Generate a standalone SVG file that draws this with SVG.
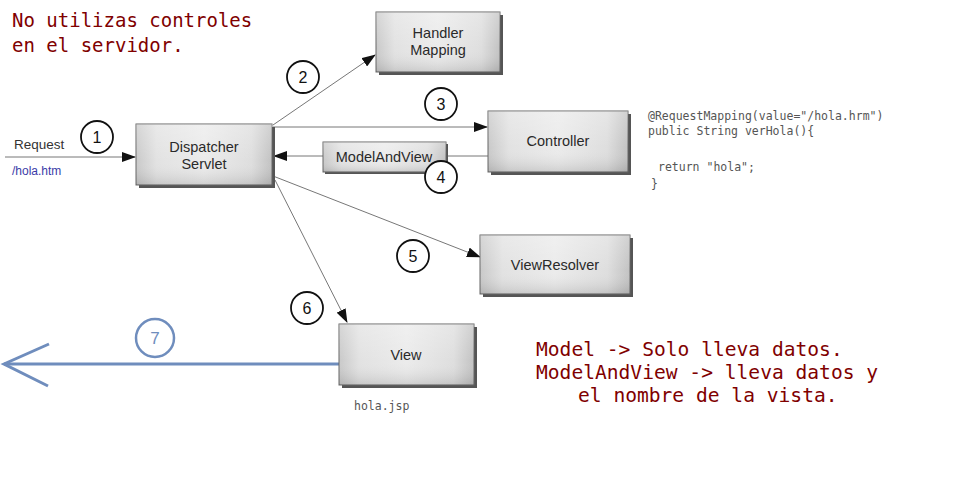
<svg xmlns="http://www.w3.org/2000/svg" width="954" height="478" viewBox="0 0 954 478">
<defs>
<linearGradient id="g" x1="0" y1="0" x2="1" y2="0">
<stop offset="0" stop-color="#c9c9c9"/>
<stop offset="0.15" stop-color="#e2e2e2"/>
<stop offset="0.5" stop-color="#ebebeb"/>
<stop offset="0.85" stop-color="#dedede"/>
<stop offset="1" stop-color="#c2c2c2"/>
</linearGradient>
<linearGradient id="gv" x1="0" y1="0" x2="0" y2="1">
<stop offset="0" stop-color="#fff" stop-opacity="0.25"/>
<stop offset="0.6" stop-color="#fff" stop-opacity="0"/>
<stop offset="1" stop-color="#000" stop-opacity="0.12"/>
</linearGradient>
<marker id="ah" markerWidth="14" markerHeight="10" refX="13" refY="5" orient="auto" markerUnits="userSpaceOnUse">
<path d="M0,0 L14,5 L0,10 Z" fill="#111"/>
</marker>
</defs>
<style>
.box{fill:url(#g);stroke:#666;stroke-width:1}
.sh{fill:#555}
.ov{fill:url(#gv)}
.lbl{font-family:"Liberation Sans",Arial,sans-serif;font-size:14.5px;fill:#2a2a2a;text-anchor:middle}
.num{font-family:"Liberation Sans",Arial,sans-serif;font-size:16px;fill:#111;text-anchor:middle}
.circ{fill:#fff;stroke:#111;stroke-width:1.8}
.ln{stroke:#777;stroke-width:1;fill:none}
.note{font-family:"DejaVu Sans Mono","Liberation Mono",monospace;fill:#800000}
.code{font-family:"DejaVu Sans Mono","Liberation Mono",monospace;font-size:11.5px;fill:#555}
</style>

<g id="notes">
<text class="note" font-size="19" x="12" y="27">No utilizas controles</text>
<text class="note" font-size="19" x="12" y="52">en el servidor.</text>
<text class="note" font-size="19.6" x="536" y="356">Model -&gt; Solo lleva datos.</text>
<text class="note" font-size="19.6" x="536" y="379">ModelAndView -&gt; lleva datos y</text>
<text class="note" font-size="19.6" x="578" y="402">el nombre de la vista.</text>
</g>

<g id="code">
<text class="code" x="648" y="120">@RequestMapping(value="/hola.hrm")</text>
<text class="code" x="648" y="135">public String verHola(){</text>
<text class="code" x="658" y="171">return "hola";</text>
<text class="code" x="651" y="188">}</text>
</g>

<g id="connectors">
<line class="ln" x1="5" y1="157" x2="135" y2="157" marker-end="url(#ah)"/>
<line class="ln" x1="273" y1="125" x2="375" y2="55" marker-end="url(#ah)"/>
<line class="ln" x1="273" y1="127" x2="487" y2="127" marker-end="url(#ah)"/>
<line class="ln" x1="488" y1="156" x2="446" y2="156"/>
<line class="ln" x1="323" y1="156" x2="274" y2="156" marker-end="url(#ah)"/>
<line class="ln" x1="273" y1="176" x2="480" y2="257" marker-end="url(#ah)"/>
<line class="ln" x1="275" y1="180" x2="347" y2="322" marker-end="url(#ah)"/>
<g id="return7" stroke="#6f8dbd" stroke-width="3" fill="none">
<line x1="339" y1="364" x2="4" y2="364"/>
<polyline points="49,344 4,364 48,386"/>
</g>
</g>

<g id="request-label">
<text x="14" y="149" font-family="'Liberation Sans',Arial,sans-serif" font-size="13.5" fill="#333">Request</text>
<text x="12" y="175" font-family="'Liberation Sans',Arial,sans-serif" font-size="12" fill="#3b3ba8">/hola.htm</text>
</g>

<g id="dispatcher">
<rect class="sh" x="139" y="127" width="136" height="61"/>
<rect class="box" x="136" y="124" width="136" height="61"/>
<rect class="ov" x="136" y="124" width="136" height="61"/>
<text class="lbl" x="204" y="152">Dispatcher</text>
<text class="lbl" x="204" y="169">Servlet</text>
</g>

<g id="handler-mapping">
<rect class="sh" x="379" y="15" width="124" height="60"/>
<rect class="box" x="376" y="12" width="124" height="60"/>
<rect class="ov" x="376" y="12" width="124" height="60"/>
<text class="lbl" x="438" y="38">Handler</text>
<text class="lbl" x="438" y="55">Mapping</text>
</g>

<g id="controller">
<rect class="sh" x="491" y="114" width="140" height="61"/>
<rect class="box" x="488" y="111" width="140" height="61"/>
<rect class="ov" x="488" y="111" width="140" height="61"/>
<text class="lbl" x="558" y="146">Controller</text>
</g>

<g id="modelandview">
<rect class="sh" x="325" y="144" width="123" height="30"/>
<rect class="box" x="323" y="142" width="123" height="30"/>
<rect class="ov" x="323" y="142" width="123" height="30"/>
<text class="lbl" x="384" y="162">ModelAndView</text>
</g>

<g id="viewresolver">
<rect class="sh" x="483" y="238" width="150" height="59"/>
<rect class="box" x="480" y="235" width="150" height="59"/>
<rect class="ov" x="480" y="235" width="150" height="59"/>
<text class="lbl" x="555" y="270">ViewResolver</text>
</g>

<g id="view">
<rect class="sh" x="342" y="327" width="135" height="61"/>
<rect class="box" x="339" y="324" width="135" height="61"/>
<rect class="ov" x="339" y="324" width="135" height="61"/>
<text class="lbl" x="406" y="360">View</text>
<text x="354" y="410" font-family="'DejaVu Sans Mono','Liberation Mono',monospace" font-size="11.5" fill="#555">hola.jsp</text>
</g>

<g id="steps">
<circle class="circ" cx="97" cy="137" r="16"/><text class="num" x="97" y="143">1</text>
<circle class="circ" cx="303" cy="77" r="16"/><text class="num" x="303" y="83">2</text>
<circle class="circ" cx="441" cy="104" r="16"/><text class="num" x="441" y="110">3</text>
<circle class="circ" cx="441" cy="177" r="16"/><text class="num" x="441" y="183">4</text>
<circle class="circ" cx="413" cy="256" r="16"/><text class="num" x="413" y="262">5</text>
<circle class="circ" cx="307" cy="308" r="16"/><text class="num" x="307" y="314">6</text>
<circle cx="155" cy="338" r="19" fill="#fff" stroke="#6f8dbd" stroke-width="2.5"/>
<text x="155" y="344" font-family="'Liberation Sans',Arial,sans-serif" font-size="17" fill="#6f8dbd" text-anchor="middle">7</text>
</g>
</svg>
